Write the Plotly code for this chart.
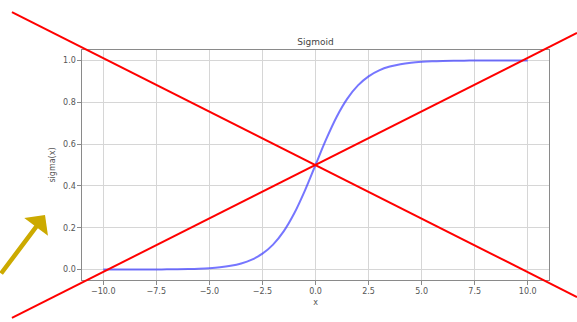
import plotly.graph_objects as go

# Sigmoid curve samples
x_vals = [-10.0, -9.5, -9.0, -8.5, -8.0, -7.5, -7.0, -6.5, -6.0, -5.5, -5.0,
          -4.5, -4.0, -3.5, -3.0, -2.5, -2.0, -1.5, -1.0, -0.5, 0.0,
          0.5, 1.0, 1.5, 2.0, 2.5, 3.0, 3.5, 4.0, 4.5, 5.0,
          5.5, 6.0, 6.5, 7.0, 7.5, 8.0, 8.5, 9.0, 9.5, 10.0]
y_vals = [0.0000, 0.0001, 0.0001, 0.0002, 0.0003, 0.0006, 0.0009, 0.0015, 0.0025, 0.0041, 0.0067,
          0.0110, 0.0180, 0.0293, 0.0474, 0.0759, 0.1192, 0.1824, 0.2689, 0.3775, 0.5000,
          0.6225, 0.7311, 0.8176, 0.8808, 0.9241, 0.9526, 0.9707, 0.9820, 0.9890, 0.9933,
          0.9959, 0.9975, 0.9985, 0.9991, 0.9994, 0.9997, 0.9998, 0.9999, 0.9999, 1.0000]

x_ticks = [-10.0, -7.5, -5.0, -2.5, 0.0, 2.5, 5.0, 7.5, 10.0]
x_tick_text = ["\u221210.0", "\u22127.5", "\u22125.0", "\u22122.5", "0.0", "2.5", "5.0", "7.5", "10.0"]
y_ticks = [0.0, 0.2, 0.4, 0.6, 0.8, 1.0]
y_tick_text = ["0.0", "0.2", "0.4", "0.6", "0.8", "1.0"]

fig = go.Figure()
fig.add_trace(go.Scatter(x=x_vals, y=y_vals, mode="lines", line_shape="spline",
                         line=dict(color="rgba(60,60,255,0.7)", width=2),
                         showlegend=False, hoverinfo="skip"))

axis_common = dict(showline=True, mirror=True, linecolor="#8a8a8a", linewidth=1.2,
                   showgrid=True, gridcolor="#d6d6d6", gridwidth=1, zeroline=False,
                   ticks="outside", ticklen=3.5, tickcolor="#8a8a8a",
                   tickfont=dict(family="DejaVu Sans", size=8, color="#555555"))

fig.update_layout(
    width=577, height=322,
    margin=dict(l=82, r=28, t=50, b=42),
    paper_bgcolor="white", plot_bgcolor="white",
    title=dict(text="Sigmoid", x=0.5, xref="paper", xanchor="center",
               y=1.0, yref="paper", yanchor="bottom", pad=dict(b=5),
               font=dict(family="DejaVu Sans", size=9, color="#444444")),
    xaxis=dict(range=[-11, 11], tickvals=x_ticks, ticktext=x_tick_text,
               title=dict(text="x", standoff=4, font=dict(family="DejaVu Sans", size=8, color="#555555")),
               **axis_common),
    yaxis=dict(range=[-0.05, 1.05], tickvals=y_ticks, ticktext=y_tick_text,
               title=dict(text="sigma(x)", standoff=6, font=dict(family="DejaVu Sans", size=8, color="#555555")),
               **axis_common),
    shapes=[
        dict(type="line", xref="paper", yref="paper", x0=-0.150, y0=1.165, x1=1.06, y1=-0.074,
             line=dict(color="#ff0000", width=2), layer="above"),
        dict(type="line", xref="paper", yref="paper", x0=-0.150, y0=-0.165, x1=1.06, y1=1.074,
             line=dict(color="#ff0000", width=2), layer="above"),
    ],
    annotations=[
        dict(x=-0.0792, y=0.2826, xref="paper", yref="paper", text="", showarrow=True,
             ax=-52, ay=60, arrowhead=1, arrowsize=1.1, arrowwidth=4.5, arrowcolor="#ccaa00"),
    ],
)

fig.write_html("out.html", config={"displayModeBar": False},
               post_script="document.body.style.margin='0';document.body.style.overflow='hidden';")
